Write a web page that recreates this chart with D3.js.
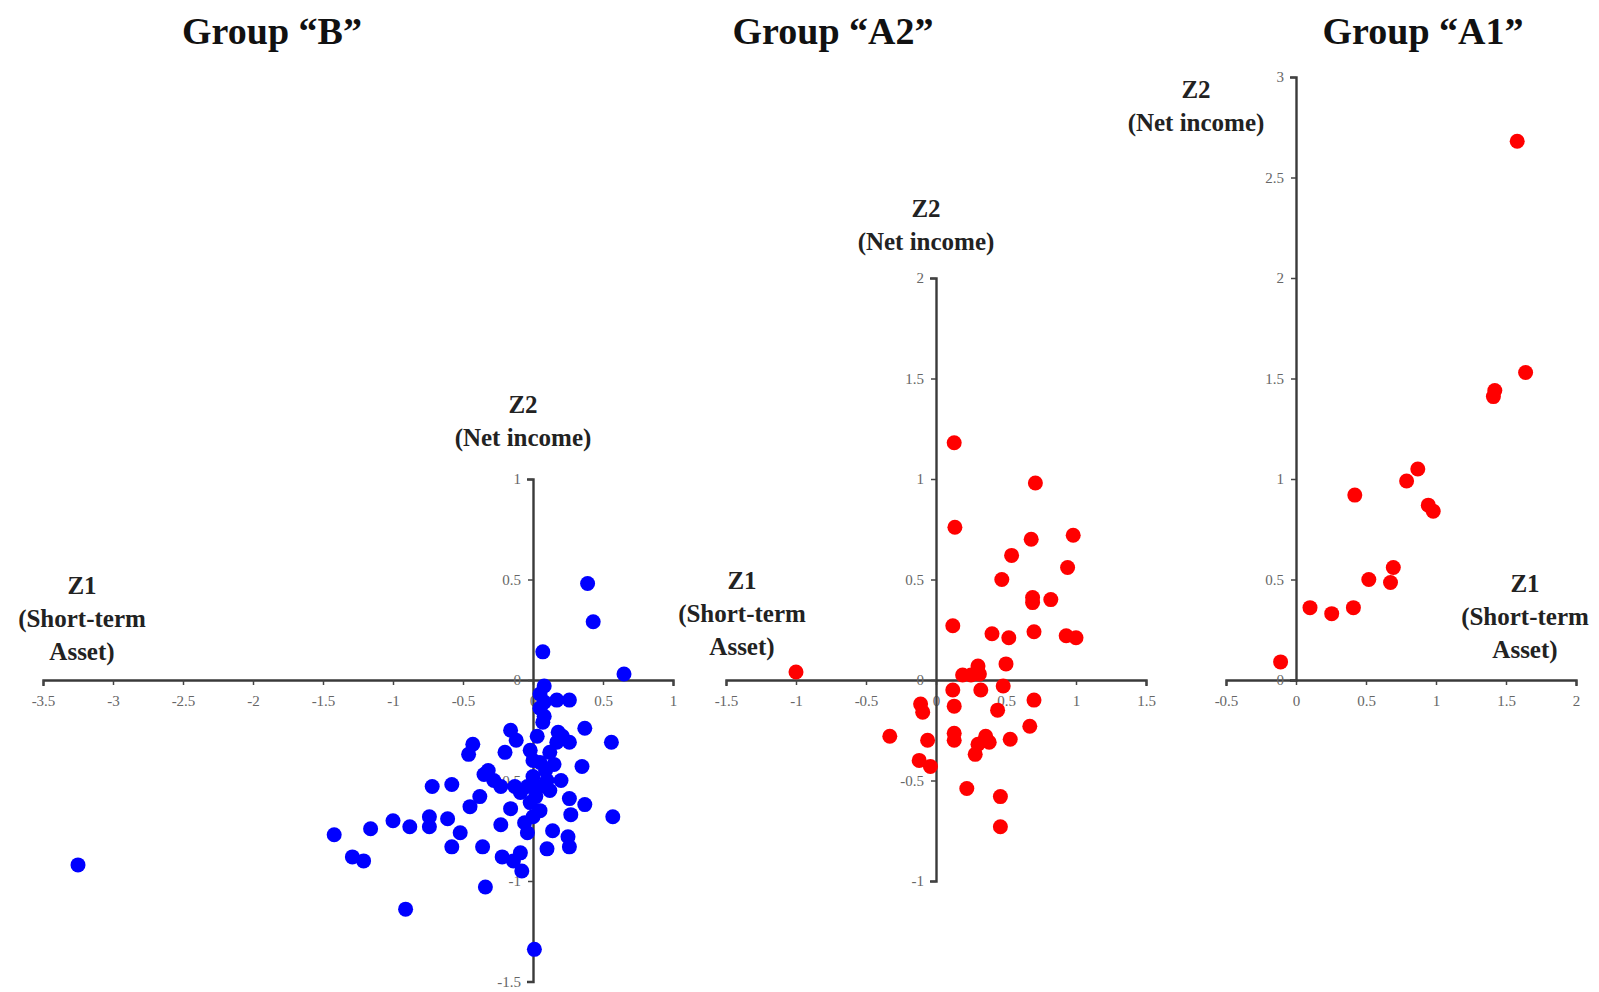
<!DOCTYPE html>
<html>
<head>
<meta charset="utf-8">
<script src="https://cdn.jsdelivr.net/npm/d3@7"></script>
<style>
  body { margin: 0; background: #fff; }
  svg text { font-family: "Liberation Serif", "Times New Roman", serif; }
</style>
</head>
<body>
<svg id="chart" width="1599" height="992"></svg>
<script>
/*
  Three factor-score scatter plots: Z1 (Short-term Asset) vs Z2 (Net income)
*/

// Data: [Z1, Z2] pairs
var groupB = [
  [0.39, 0.48], [0.43, 0.29], [0.07, 0.14], [0.65, 0.03],
  [0.08, -0.03], [0.05, -0.07], [0.08, -0.11], [0.05, -0.14], [0.08, -0.18], [0.07, -0.21],
  [0.17, -0.10], [0.26, -0.10],
  [-0.16, -0.25], [-0.12, -0.30], [0.03, -0.28],
  [0.18, -0.26], [0.21, -0.28], [0.26, -0.31], [0.17, -0.31],
  [0.37, -0.24], [0.56, -0.31],
  [-0.43, -0.32], [-0.46, -0.37], [-0.20, -0.36],
  [-0.02, -0.35], [0.00, -0.40], [0.05, -0.41], [0.09, -0.45], [0.00, -0.48], [0.10, -0.50],
  [0.05, -0.53], [-0.04, -0.53], [0.12, -0.36], [0.15, -0.42], [0.02, -0.58], [0.12, -0.55],
  [0.20, -0.50], [0.35, -0.43],
  [-0.32, -0.45], [-0.28, -0.50], [-0.23, -0.53], [-0.35, -0.47], [-0.13, -0.53],
  [-0.72, -0.53], [-0.58, -0.52],
  [-0.38, -0.58], [-0.45, -0.63], [-0.16, -0.64],
  [-0.09, -0.56], [-0.02, -0.61], [0.05, -0.65], [0.00, -0.68],
  [0.26, -0.59], [0.37, -0.62], [0.27, -0.67], [0.57, -0.68],
  [-0.06, -0.71], [-0.04, -0.76], [-0.23, -0.72],
  [0.14, -0.75], [0.10, -0.84], [0.25, -0.78], [0.26, -0.83],
  [-0.52, -0.76], [-0.58, -0.83], [-0.36, -0.83],
  [-0.22, -0.88], [-0.14, -0.90], [-0.09, -0.86], [-0.08, -0.95],
  [-0.34, -1.03],
  [-0.74, -0.73], [-0.74, -0.68], [-0.61, -0.69], [-0.88, -0.73], [-1.00, -0.70],
  [-1.16, -0.74], [-1.42, -0.77], [-1.29, -0.88], [-1.21, -0.90],
  [-0.91, -1.14], [0.01, -1.34], [-3.25, -0.92]
];

var groupA2 = [
  [0.13, 1.18], [0.71, 0.98], [0.135, 0.76], [0.68, 0.70], [0.98, 0.72], [0.54, 0.62],
  [0.94, 0.56], [0.47, 0.50], [0.69, 0.41], [0.69, 0.385], [0.82, 0.40], [0.12, 0.27],
  [0.40, 0.23], [0.52, 0.21], [0.70, 0.24], [0.93, 0.22], [1.00, 0.21],
  [0.50, 0.08], [0.30, 0.07], [0.19, 0.025], [0.25, 0.025], [0.31, 0.03],
  [0.12, -0.05], [0.32, -0.05], [0.48, -0.03], [0.70, -0.10], [0.13, -0.13], [0.44, -0.15],
  [-0.11, -0.12], [-0.095, -0.16], [0.67, -0.23], [-0.33, -0.28], [-0.06, -0.30],
  [0.13, -0.265], [0.13, -0.30], [0.355, -0.28], [0.38, -0.31], [0.30, -0.32], [0.28, -0.37],
  [0.53, -0.295], [-0.12, -0.40], [-0.04, -0.43], [0.22, -0.54], [0.46, -0.58], [0.46, -0.73],
  [-1.00, 0.04]
];

var groupA1 = [
  [-0.11, 0.09], [0.10, 0.36], [0.255, 0.33], [0.41, 0.36], [0.52, 0.50], [0.675, 0.485],
  [0.695, 0.56], [0.42, 0.92], [0.79, 0.99], [0.87, 1.05], [0.945, 0.87], [0.98, 0.84],
  [1.41, 1.41], [1.42, 1.44], [1.64, 1.53], [1.58, 2.68]
];

// Tick values
var ticksBX = [-3.5, -3, -2.5, -2, -1.5, -1, -0.5, 0, 0.5, 1];
var ticksBY = [-1.5, -1, -0.5, 0, 0.5, 1];
var ticksA2X = [-1.5, -1, -0.5, 0, 0.5, 1, 1.5];
var ticksA2Y = [-1, -0.5, 0, 0.5, 1, 1.5, 2];
var ticksA1X = [-0.5, 0, 0.5, 1, 1.5, 2];
var ticksA1Y = [0, 0.5, 1, 1.5, 2, 2.5, 3];

// Layout: every panel uses the same units-to-pixels ratio
var pxPerX = 140;
var pxPerY = 201;

var panels = [
  {
    title: "Group \u201cB\u201d", titleX: 272,
    data: groupB, color: "#0000ff",
    ox: 533, oy: 680, xTicks: ticksBX, yTicks: ticksBY,
    z2: [523, 405], z1: [82, 586]
  },
  {
    title: "Group \u201cA2\u201d", titleX: 833,
    data: groupA2, color: "#ff0000",
    ox: 936, oy: 680, xTicks: ticksA2X, yTicks: ticksA2Y,
    z2: [926, 209], z1: [742, 581]
  },
  {
    title: "Group \u201cA1\u201d", titleX: 1423,
    data: groupA1, color: "#ff0000",
    ox: 1296, oy: 680, xTicks: ticksA1X, yTicks: ticksA1Y,
    z2: [1196, 90], z1: [1525, 584]
  }
];

var svg = d3.select("#chart");
var fmt = function(d) { return String(d); };

function drawLabel(lines, x, y) {
  var t = svg.append("text")
      .attr("x", x)
      .attr("y", y)
      .attr("text-anchor", "middle")
      .style("font-size", "25px")
      .style("font-weight", "bold")
      .style("fill", "#222");
  lines.forEach(function(line, i) {
    t.append("tspan")
      .attr("x", x)
      .attr("dy", i === 0 ? 0 : 33)
      .text(line);
  });
}

function drawPanel(p) {
  var xMin = d3.min(p.xTicks), xMax = d3.max(p.xTicks);
  var yMin = d3.min(p.yTicks), yMax = d3.max(p.yTicks);

  var x = d3.scaleLinear()
      .domain([xMin, xMax])
      .range([p.ox + xMin * pxPerX, p.ox + xMax * pxPerX]);
  var y = d3.scaleLinear()
      .domain([yMin, yMax])
      .range([p.oy - yMin * pxPerY, p.oy - yMax * pxPerY]);

  // axes cross at the origin
  var gx = svg.append("g")
      .attr("transform", "translate(0," + y(0) + ")")
      .call(d3.axisBottom(x).tickValues(p.xTicks).tickFormat(fmt)
        .tickSize(5).tickSizeOuter(6).tickPadding(10));
  var gy = svg.append("g")
      .attr("transform", "translate(" + x(0) + ",0)")
      .call(d3.axisLeft(y).tickValues(p.yTicks).tickFormat(fmt)
        .tickSize(5).tickSizeOuter(6).tickPadding(7));

  [gx, gy].forEach(function(g) {
    g.select(".domain").attr("stroke", "#3a3a3a").attr("stroke-width", 2.4);
    g.selectAll(".tick line").attr("stroke", "#444").attr("stroke-width", 1.5);
    g.selectAll(".tick text")
      .style("font-size", "15px")
      .style("font-family", "'Liberation Serif', serif")
      .attr("fill", "#666");
  });

  // points
  svg.append("g")
    .selectAll("circle")
    .data(p.data)
    .enter().append("circle")
      .attr("cx", function(d) { return x(d[0]); })
      .attr("cy", function(d) { return y(d[1]); })
      .attr("r", 7.5)
      .style("fill", p.color);

  // title and axis names
  svg.append("text")
      .attr("x", p.titleX)
      .attr("y", 44)
      .attr("text-anchor", "middle")
      .style("font-size", "38px")
      .style("font-weight", "bold")
      .style("fill", "#111")
      .text(p.title);

  drawLabel(["Z2", "(Net income)"], p.z2[0], p.z2[1] + 8);
  drawLabel(["Z1", "(Short-term", "Asset)"], p.z1[0], p.z1[1] + 8);
}

panels.forEach(drawPanel);
</script>
</body>
</html>
